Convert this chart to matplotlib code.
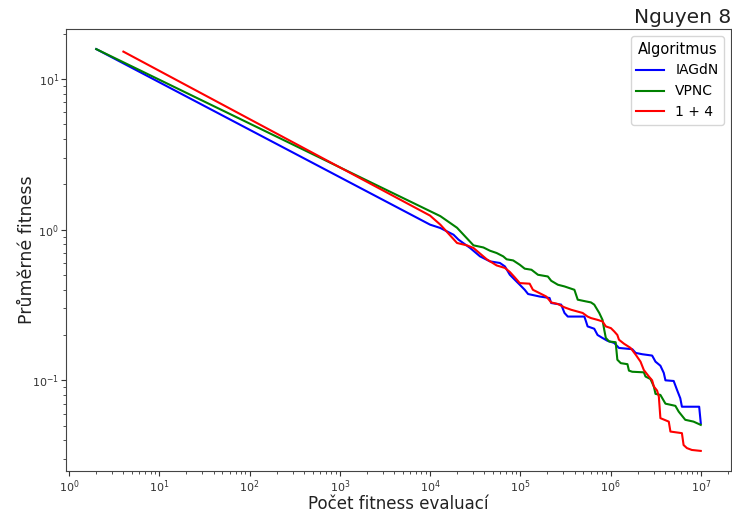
import matplotlib
matplotlib.use("Agg")
import matplotlib.pyplot as plt

# --- data ---
iagdn_x = [2, 1.0e4, 1.3e4, 1.82e4, 2.07e4, 2.78e4, 3.58e4, 4.61e4, 5.95e4, 6.76e4, 7.66e4,
           9.08e4, 9.87e4, 1.12e5, 1.22e5, 1.64e5, 2.11e5, 2.20e5, 2.84e5, 3.09e5, 3.36e5,
           5.13e5, 5.35e5, 5.57e5, 6.60e5, 7.18e5, 8.15e5, 9.24e5, 1.10e6, 1.24e6, 1.74e6,
           1.90e6, 2.25e6, 2.89e6, 3.15e6, 3.57e6, 3.89e6, 4.06e6, 5.01e6, 5.45e6, 5.93e6,
           6.18e6, 9.6e6, 1.0e7]
iagdn_y = [15.8, 1.08, 1.026, 0.926, 0.858, 0.756, 0.665, 0.616, 0.601, 0.570, 0.502,
           0.453, 0.431, 0.399, 0.374, 0.360, 0.352, 0.326, 0.318, 0.280, 0.265,
           0.265, 0.246, 0.228, 0.220, 0.200, 0.191, 0.183, 0.177, 0.164, 0.161,
           0.152, 0.149, 0.146, 0.133, 0.125, 0.112, 0.100, 0.099, 0.0865, 0.076,
           0.0668, 0.0668, 0.052]

vpnc_x = [2, 1.3e4, 1.99e4, 3.03e4, 3.90e4, 4.61e4, 5.47e4, 6.47e4, 7.05e4, 8.34e4, 9.87e4,
          1.12e5, 1.33e5, 1.57e5, 2.02e5, 2.20e5, 2.61e5, 3.09e5, 3.98e5, 4.33e5, 5.35e5,
          6.07e5, 6.60e5, 7.50e5, 8.15e5, 8.51e5, 8.87e5, 9.66e5, 1.14e6, 1.19e6, 1.30e6,
          1.54e6, 1.60e6, 1.74e6, 2.34e6, 2.44e6, 2.77e6, 3.02e6, 3.15e6, 3.57e6, 4.06e6,
          5.23e6, 5.69e6, 6.73e6, 8.31e6, 9.04e6, 1.0e7]
vpnc_y = [15.8, 1.23, 1.03, 0.787, 0.762, 0.725, 0.700, 0.665, 0.636, 0.625, 0.585,
          0.551, 0.542, 0.502, 0.489, 0.458, 0.431, 0.420, 0.399, 0.343, 0.334,
          0.329, 0.318, 0.280, 0.252, 0.217, 0.191, 0.181, 0.179, 0.137, 0.130,
          0.128, 0.116, 0.114, 0.113, 0.106, 0.102, 0.091, 0.0813, 0.080, 0.070,
          0.0677, 0.062, 0.0547, 0.0532, 0.052, 0.0506]

es_x = [4, 1.0e4, 1.3e4, 1.99e4, 2.56e4, 3.03e4, 4.25e4, 5.47e4, 6.76e4, 7.66e4, 8.7e4,
        9.87e4, 1.27e5, 1.38e5, 1.94e5, 2.20e5, 2.61e5, 3.09e5, 3.66e5, 4.91e5, 5.57e5,
        6.07e5, 7.18e5, 8.15e5, 8.87e5, 1.01e6, 1.10e6, 1.19e6, 1.24e6, 1.41e6, 1.67e6,
        1.90e6, 2.15e6, 2.34e6, 2.66e6, 2.89e6, 3.02e6, 3.28e6, 3.43e6, 3.57e6, 4.42e6,
        4.61e6, 6.18e6, 6.45e6, 7.02e6, 7.96e6, 1.0e7]
es_y = [15.2, 1.24, 1.08, 0.816, 0.787, 0.756, 0.636, 0.579, 0.557, 0.524, 0.482,
        0.442, 0.438, 0.399, 0.360, 0.329, 0.321, 0.305, 0.294, 0.280, 0.265,
        0.259, 0.252, 0.246, 0.228, 0.222, 0.211, 0.200, 0.186, 0.175, 0.164,
        0.148, 0.133, 0.117, 0.106, 0.100, 0.091, 0.0855, 0.078, 0.0561, 0.0532,
        0.0457, 0.0446, 0.0372, 0.0355, 0.0345, 0.034]

labels = ["IAGdN", "VPNC", "1 + 4"]
colors = ["blue", "green", "red"]
x_ticks = [1e0, 1e1, 1e2, 1e3, 1e4, 1e5, 1e6, 1e7]
y_ticks = [1e-1, 1e0, 1e1]

fig = plt.figure(figsize=(7.32, 5.11), dpi=100)
ax = fig.add_axes([66/732, 40/511, 665/732, 442/511])

for xs, ys, lab, c in zip([iagdn_x, vpnc_x, es_x], [iagdn_y, vpnc_y, es_y], labels, colors):
    ax.plot(xs, ys, color=c, label=lab, linewidth=1.5)

ax.set_xscale("log")
ax.set_yscale("log")
ax.autoscale_view()
xl = ax.get_xlim()
yl = ax.get_ylim()
ax.set_xticks(x_ticks)
ax.set_yticks(y_ticks)
ax.set_xlim(xl)
ax.set_ylim(yl)
ax.set_title("Nguyen 8", loc="right", fontsize=14.5, color="#222222", pad=4)
ax.set_xlabel("Počet fitness evaluací", fontsize=12, color="#222222", labelpad=0)
ax.set_ylabel("Průměrné fitness", fontsize=12.5, color="#222222", labelpad=-3)
ax.tick_params(axis="both", which="major", labelsize=8, colors="#333333", length=3.5, pad=1.5)
ax.tick_params(axis="both", which="minor", length=2, colors="#333333", labelleft=False, labelbottom=False)
for s in ax.spines.values():
    s.set_color("#444444")
leg = ax.legend(title="Algoritmus", loc="upper right", fontsize=10, title_fontsize=10.5)

fig.savefig("out.png", dpi=100)
